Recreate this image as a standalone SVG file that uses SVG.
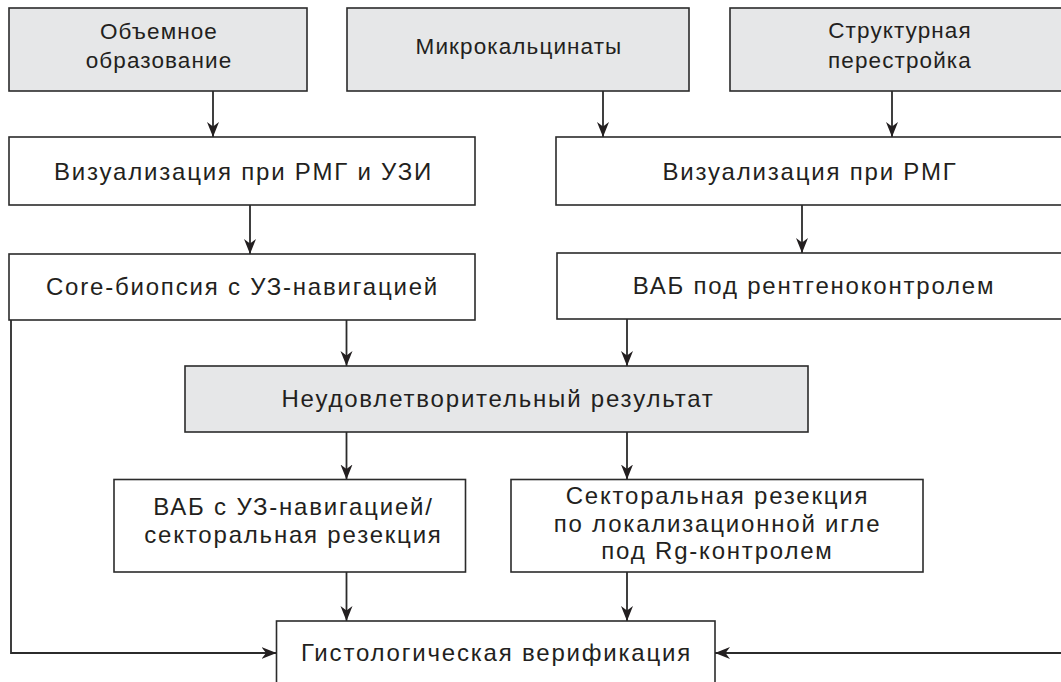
<svg xmlns="http://www.w3.org/2000/svg" width="1061" height="682" viewBox="0 0 1061 682">
<defs>
<style>
.box{stroke:#2b2b2b;stroke-width:1.6;fill:#ffffff}
.gray{fill:#e6e7e8}
text{font-family:"Liberation Sans",Arial,sans-serif;font-size:24px;letter-spacing:1.8px;fill:#231f20;text-anchor:middle}
text.top{font-size:22.5px;letter-spacing:1.1px}
.ln{stroke:#2b2b2b;stroke-width:1.8;fill:none}
</style>
<marker id="ah" viewBox="0 0 10 10" refX="10" refY="5" markerWidth="15" markerHeight="15" markerUnits="userSpaceOnUse" orient="auto">
<path d="M0,1 L10,5 L0,9 L3,5 Z" fill="#231f20"/>
</marker>
</defs>
<rect width="1061" height="682" fill="#ffffff"/>
<g id="connectors">
<line class="ln" x1="213" y1="91" x2="213" y2="137" marker-end="url(#ah)"/>
<line class="ln" x1="603" y1="91" x2="603" y2="137" marker-end="url(#ah)"/>
<line class="ln" x1="892" y1="91" x2="892" y2="137" marker-end="url(#ah)"/>
<line class="ln" x1="250" y1="205" x2="250" y2="254" marker-end="url(#ah)"/>
<line class="ln" x1="802" y1="205" x2="802" y2="253" marker-end="url(#ah)"/>
<line class="ln" x1="346.5" y1="320" x2="346.5" y2="366" marker-end="url(#ah)"/>
<line class="ln" x1="627" y1="319" x2="627" y2="366" marker-end="url(#ah)"/>
<line class="ln" x1="346.5" y1="432" x2="346.5" y2="479.5" marker-end="url(#ah)"/>
<line class="ln" x1="627" y1="432" x2="627" y2="479.5" marker-end="url(#ah)"/>
<line class="ln" x1="346.5" y1="572" x2="346.5" y2="621" marker-end="url(#ah)"/>
<line class="ln" x1="627" y1="572" x2="627" y2="621" marker-end="url(#ah)"/>
<polyline class="ln" points="11,320 11,653 276.5,653" marker-end="url(#ah)"/>
<line class="ln" x1="1064" y1="653" x2="715" y2="653" marker-end="url(#ah)"/>
</g>
<g id="n1"><rect class="box gray" x="9" y="8" width="298" height="83"/><text class="top" x="159" y="39">Объемное</text><text class="top" x="159" y="68">образование</text></g>
<g id="n2"><rect class="box gray" x="347" y="8" width="342" height="83"/><text class="top" x="519" y="54">Микрокальцинаты</text></g>
<g id="n3"><rect class="box gray" x="730" y="8" width="340" height="83"/><text class="top" x="900" y="38">Структурная</text><text class="top" x="900" y="68">перестройка</text></g>
<g id="n4"><rect class="box" x="9" y="137" width="466" height="68"/><text x="243.5" y="180">Визуализация при РМГ и УЗИ</text></g>
<g id="n5"><rect class="box" x="556" y="137" width="514" height="68"/><text x="810" y="180">Визуализация при РМГ</text></g>
<g id="n6"><rect class="box" x="9" y="254" width="466" height="66"/><text x="242.5" y="294.5">Core-биопсия с УЗ-навигацией</text></g>
<g id="n7"><rect class="box" x="557" y="253" width="513" height="66"/><text x="814" y="293.5">ВАБ под рентгеноконтролем</text></g>
<g id="n8"><rect class="box gray" x="185" y="366" width="623" height="66"/><text x="498" y="407">Неудовлетворительный результат</text></g>
<g id="n9"><rect class="box" x="114" y="479.5" width="351.5" height="92.5"/><text x="293.5" y="515">ВАБ с УЗ-навигацией/</text><text x="293.5" y="543">секторальная резекция</text></g>
<g id="n10"><rect class="box" x="511" y="479.5" width="412" height="92.5"/><text x="717.5" y="504">Секторальная резекция</text><text x="717.5" y="532">по локализационной игле</text><text x="717.5" y="559">под Rg-контролем</text></g>
<g id="n11"><rect class="box" x="276.5" y="621" width="438.5" height="70"/><text x="496.5" y="661">Гистологическая верификация</text></g>
</svg>
